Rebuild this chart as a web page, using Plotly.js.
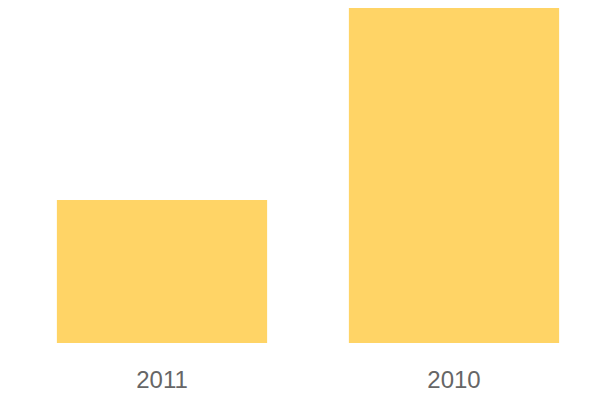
<!DOCTYPE html>
<html>
<head>
<meta charset="utf-8">
<script src="https://cdn.plot.ly/plotly-3.0.1.min.js"></script>
<style>html,body{margin:0;padding:0;background:#fff;}#chart{width:600px;height:400px;}</style>
</head>
<body>
<div id="chart"></div>
<script>
var categories = ["2011", "2010"];
var values = [42.7, 100];

var trace = {
  type: "bar",
  x: categories,
  y: values,
  marker: { color: "#FFD466" },
  hoverinfo: "none"
};

var layout = {
  width: 600,
  height: 400,
  margin: { l: 16, r: 0, t: 8, b: 57 },
  paper_bgcolor: "#ffffff",
  plot_bgcolor: "#ffffff",
  bargap: 0.28,
  showlegend: false,
  xaxis: {
    type: "category",
    showgrid: false,
    zeroline: false,
    showline: false,
    ticks: "",
    tickfont: { family: "Liberation Sans, Arial, sans-serif", size: 24, color: "#666666" },
    ticklabelstandoff: 20
  },
  yaxis: {
    range: [0, 100],
    showgrid: false,
    zeroline: false,
    showline: false,
    showticklabels: false,
    ticks: ""
  }
};

Plotly.newPlot("chart", [trace], layout, { displayModeBar: false, staticPlot: true });
</script>
</body>
</html>
